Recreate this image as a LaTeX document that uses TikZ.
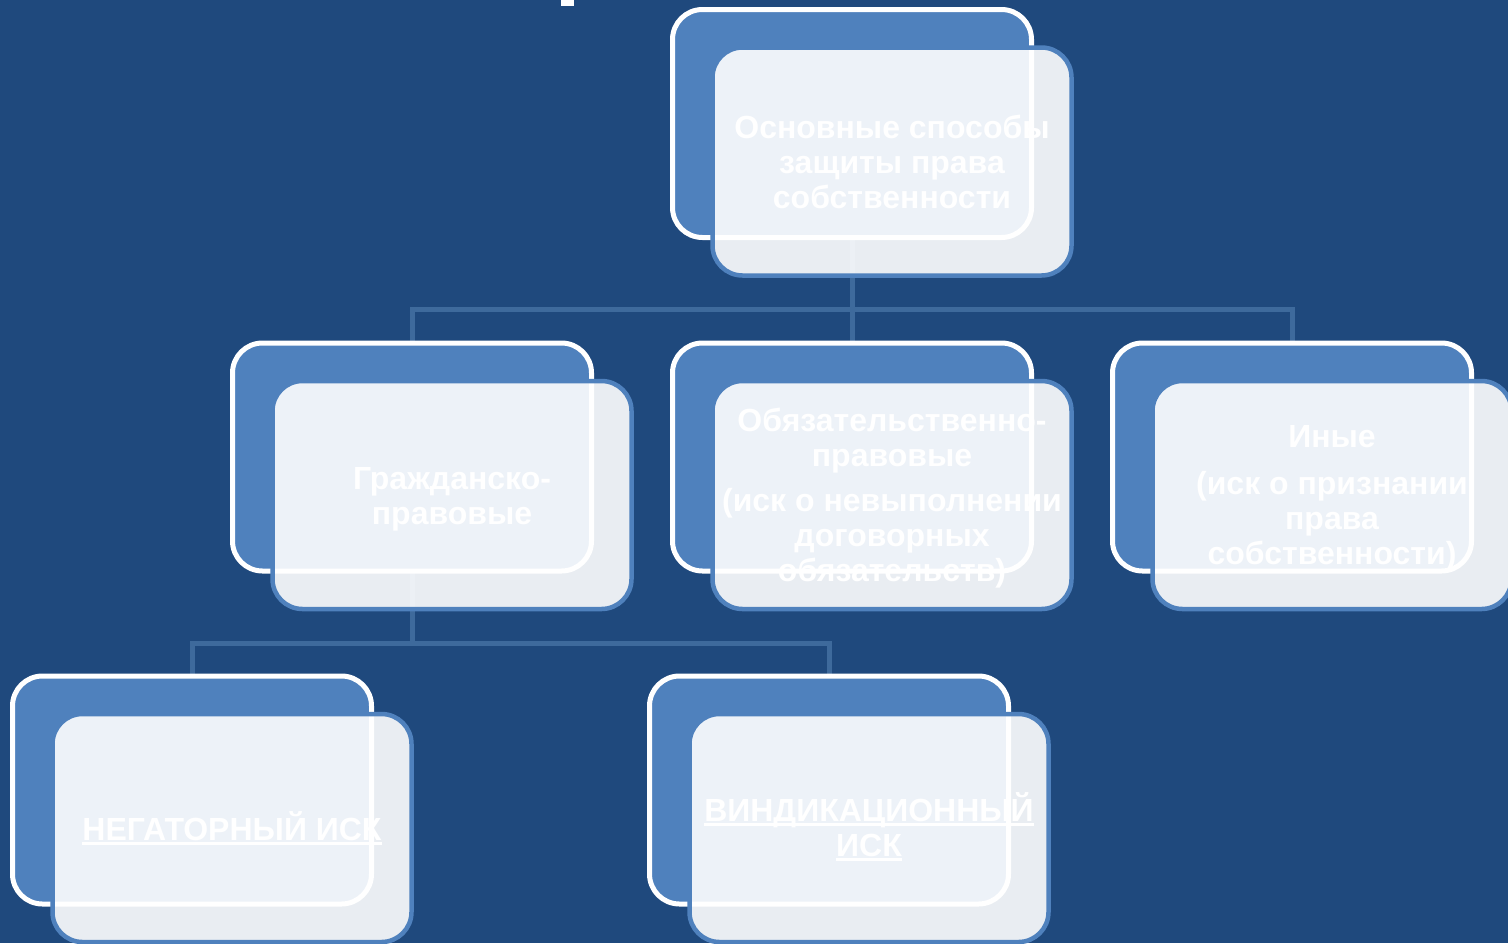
\documentclass[tikz,border=0pt]{standalone}
\usepackage{fontspec}
\setmainfont{Liberation Sans}
\definecolor{bgblue}{HTML}{1F497D}
\definecolor{accent}{HTML}{4F81BD}
\definecolor{conncol}{HTML}{3E6A9C}
\pgfdeclarelayer{lines}
\pgfsetlayers{lines,main}
\newcommand{\myul}[1]{\leavevmode\setbox0=\hbox{#1}\rlap{\rule[-2.2pt]{\wd0}{1.5pt}}\box0}
\begin{document}
\begin{tikzpicture}[x=0.5pt,y=-0.5pt,
  backbox/.style={draw=white, line width=2.5pt, fill=accent, rounded corners=15pt,
    minimum width=179.5pt, minimum height=114pt, inner sep=0pt},
  frontbox/.style={draw=accent, line width=2.25pt, fill=white, fill opacity=0.9,
    draw opacity=1, rounded corners=15pt,
    minimum width=179.5pt, minimum height=114pt, inner sep=0pt},
  boxtext/.style={text=white, inner sep=0pt, align=center,
    font=\fontsize{16}{17.5}\selectfont\bfseries},
  conn/.style={draw=conncol, line width=2.5pt}]
\useasboundingbox (0,0) rectangle (1508,943);
\clip (0,0) rectangle (1508,943);
% title fragment cut by the top edge
\fill[white] (561,0) rectangle (574,6);
% top
\node[backbox] (tB) at (852,123.5) {};
\node[frontbox] (tF) at (892,161.5) {};
\node[boxtext] (tT) at (892,161.5) {Основные способы\\защиты права\\собственности};
% middle row
\node[backbox] (m1B) at (412,457) {};
\node[frontbox] (m1F) at (452,495) {};
\node[boxtext] (m1T) at (452,499) {Гражданско-\\правовые};
\node[backbox] (m2B) at (852,457) {};
\node[frontbox] (m2F) at (892,495) {};
\node[boxtext] (m2T) at (892,498.5) {Обязательственно-\\правовые\\[5pt](иск о невыполнении\\договорных\\обязательств)};
\node[backbox] (m3B) at (1292,457) {};
\node[frontbox] (m3F) at (1332,495) {};
\node[boxtext] (m3T) at (1332,498.5) {Иные\\[6pt](иск о признании\\права\\собственности)};
% bottom row
\node[backbox] (b1B) at (192,790) {};
\node[frontbox] (b1F) at (232,828) {};
\node[boxtext] (b1T) at (232,828) {\myul{НЕГАТОРНЫЙ ИСК}};
\node[backbox] (b2B) at (829,790) {};
\node[frontbox] (b2F) at (869,828) {};
\node[boxtext] (b2T) at (869,827) {\myul{ВИНДИКАЦИОННЫЙ}\\\myul{ИСК}};
\begin{pgfonlayer}{lines}
  \fill[bgblue] (0,0) rectangle (1508,943);
  \coordinate (j1) at (852,309.5);
  \coordinate (j2) at (412,643);
  \draw[conn] (tB.center) -- (j1);
  \draw[conn] (j1) -| (m1B.center);
  \draw[conn] (j1) -| (m2B.center);
  \draw[conn] (j1) -| (m3B.center);
  \draw[conn] (m1B.center) -- (j2);
  \draw[conn] (j2) -| (b1B.center);
  \draw[conn] (j2) -| (b2B.center);
\end{pgfonlayer}
\end{tikzpicture}
\end{document}
